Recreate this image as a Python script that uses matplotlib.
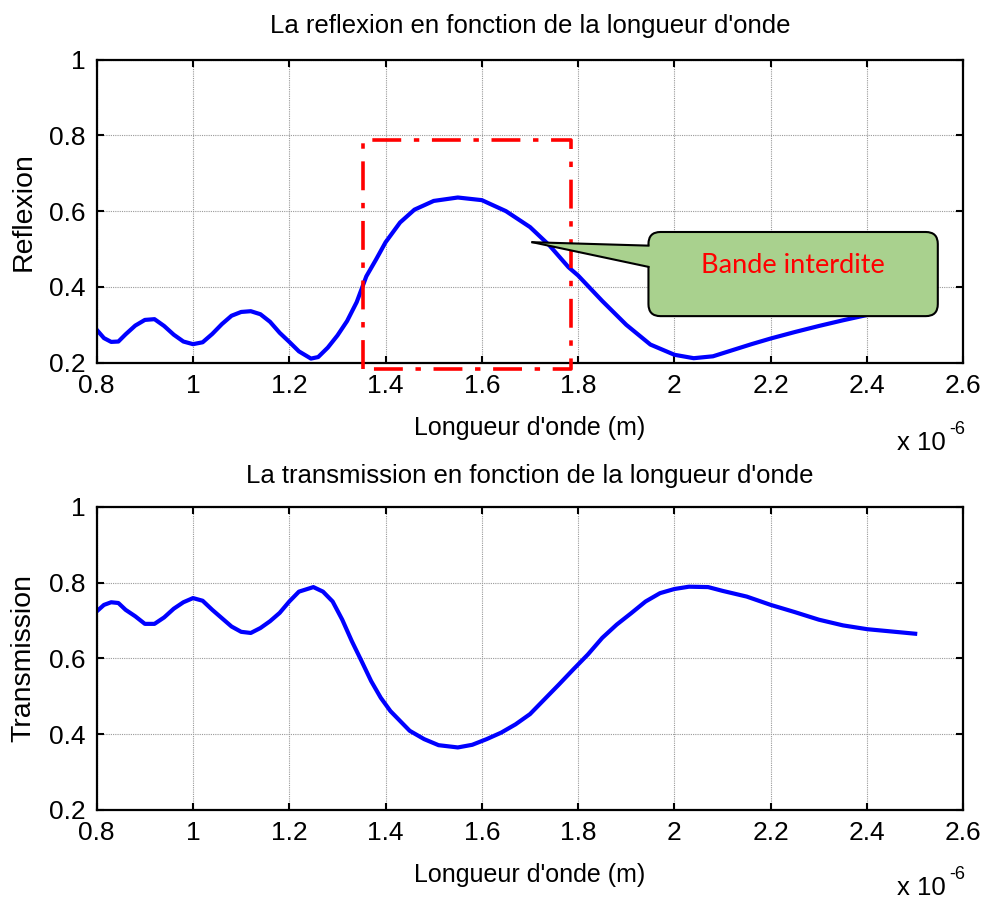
import matplotlib
matplotlib.use('Agg')
import matplotlib.pyplot as plt
from matplotlib.patches import FancyBboxPatch, Polygon
from matplotlib.ticker import FuncFormatter

plt.rcParams['font.family'] = ['Liberation Sans', 'DejaVu Sans']

# longueur d'onde (en micrometres, affichee x 10^-6 m)
lam_r = [0.80, 0.815, 0.83, 0.845, 0.86, 0.88, 0.90, 0.92, 0.94, 0.96, 0.98,
         1.00, 1.02, 1.04, 1.06, 1.08, 1.10, 1.12, 1.14, 1.16, 1.18, 1.20,
         1.22, 1.245, 1.26, 1.28, 1.30, 1.32, 1.34, 1.36, 1.38, 1.40, 1.43,
         1.46, 1.50, 1.55, 1.60, 1.65, 1.70, 1.74, 1.78, 1.80, 1.85, 1.90,
         1.95, 2.00, 2.04, 2.08, 2.12, 2.16, 2.20, 2.25, 2.30, 2.35, 2.40,
         2.45, 2.50]
reflexion = [0.287, 0.265, 0.255, 0.256, 0.275, 0.298, 0.313, 0.315, 0.297,
             0.274, 0.256, 0.249, 0.254, 0.276, 0.302, 0.324, 0.334, 0.336,
             0.328, 0.308, 0.279, 0.255, 0.230, 0.211, 0.215, 0.240, 0.272,
             0.310, 0.360, 0.428, 0.472, 0.518, 0.570, 0.604, 0.627, 0.636,
             0.629, 0.600, 0.558, 0.510, 0.452, 0.430, 0.363, 0.300, 0.248,
             0.221, 0.212, 0.217, 0.233, 0.249, 0.264, 0.281, 0.297, 0.312,
             0.326, 0.331, 0.334]

lam_t = [0.80, 0.815, 0.83, 0.845, 0.86, 0.88, 0.90, 0.92, 0.94, 0.96, 0.98,
         1.00, 1.02, 1.04, 1.06, 1.08, 1.10, 1.12, 1.14, 1.16, 1.18, 1.20,
         1.22, 1.25, 1.27, 1.29, 1.31, 1.33, 1.35, 1.37, 1.39, 1.41, 1.43,
         1.45, 1.48, 1.51, 1.55, 1.58, 1.61, 1.64, 1.67, 1.70, 1.73, 1.76,
         1.79, 1.82, 1.85, 1.88, 1.91, 1.94, 1.97, 2.00, 2.03, 2.07, 2.10,
         2.15, 2.20, 2.25, 2.30, 2.35, 2.40, 2.45, 2.50]
transmission = [0.724, 0.741, 0.748, 0.746, 0.728, 0.711, 0.691, 0.691, 0.708,
                0.731, 0.748, 0.759, 0.752, 0.728, 0.706, 0.684, 0.670, 0.667,
                0.680, 0.698, 0.720, 0.750, 0.776, 0.788, 0.776, 0.750, 0.702,
                0.645, 0.593, 0.540, 0.496, 0.461, 0.435, 0.409, 0.387, 0.371,
                0.365, 0.372, 0.387, 0.404, 0.426, 0.453, 0.492, 0.531, 0.571,
                0.610, 0.654, 0.689, 0.719, 0.750, 0.772, 0.783, 0.789, 0.788,
                0.778, 0.763, 0.741, 0.722, 0.702, 0.687, 0.677, 0.671, 0.665]

x_ticks = [0.8, 1.0, 1.2, 1.4, 1.6, 1.8, 2.0, 2.2, 2.4, 2.6]
y_ticks = [0.2, 0.4, 0.6, 0.8, 1.0]

# bande interdite (cadre rouge) et bulle
band_x = (1.354, 1.786)
band_y = (0.183, 0.788)
bulle_x = (1.946, 2.547)
bulle_y = (0.323, 0.545)
pointe = (1.705, 0.518)
base_y = (0.509, 0.453)

fig = plt.figure(figsize=(9.86, 9.01), dpi=100)
ax1 = fig.add_axes([0.0981, 0.5974, 0.8789, 0.3365])
ax2 = fig.add_axes([0.0981, 0.1010, 0.8789, 0.3366])

fmt = FuncFormatter(lambda v, p: '%g' % round(v, 2))


def style(ax, title, ylabel, tpad):
    ax.set_xlim(0.8, 2.6)
    ax.set_ylim(0.2, 1.0)
    ax.set_xticks(x_ticks)
    ax.set_yticks(y_ticks)
    ax.xaxis.set_major_formatter(fmt)
    ax.yaxis.set_major_formatter(fmt)
    ax.grid(True, color='0.6', linestyle=(0, (1, 1)), linewidth=0.8)
    ax.tick_params(direction='in', length=5, width=1.5, top=True, right=True,
                   labelsize=19, pad=8)
    for s in ax.spines.values():
        s.set_linewidth(1.6)
    ax.set_title(title, fontsize=18.5, pad=tpad)
    ax.set_xlabel("Longueur d'onde (m)", fontsize=18, labelpad=13)
    ax.set_ylabel(ylabel, fontsize=20.5, labelpad=9)


ax1.plot(lam_r, reflexion, color='#0000FF', linewidth=3)
style(ax1, 'La reflexion en fonction de la longueur d\'onde', 'Reflexion', 19)

ax2.plot(lam_t, transmission, color='#0000FF', linewidth=3)
style(ax2, 'La transmission en fonction de la longueur d\'onde', 'Transmission', 17)

# cadre rouge
x0, x1 = band_x
y0, y1 = band_y
ax1.plot([x0, x0, x1, x1, x0], [y0, y1, y1, y0, y0], color='#FF0000',
         linewidth=2.6, linestyle=(0, (8, 3.5, 1.5, 3.5)), clip_on=False,
         zorder=4)

# bulle "Bande interdite"
bx0, bx1 = bulle_x
by0, by1 = bulle_y
box = FancyBboxPatch((bx0, by0), bx1 - bx0, by1 - by0,
                     boxstyle='round,pad=0,rounding_size=0.025',
                     mutation_aspect=1.27, facecolor='#A9D18E',
                     edgecolor='black', linewidth=1.5, clip_on=False, zorder=5)
ax1.add_patch(box)
tri = Polygon([pointe, (bx0 + 0.006, base_y[0]), (bx0 + 0.006, base_y[1])],
              closed=True, facecolor='#A9D18E', edgecolor='none',
              clip_on=False, zorder=6)
ax1.add_patch(tri)
for yb in base_y:
    ax1.plot([pointe[0], bx0], [pointe[1], yb], color='black', linewidth=1.5,
             clip_on=False, zorder=7)
ax1.text((bx0 + bx1) / 2, 0.457, 'Bande interdite', color='#FF0000',
         fontsize=19.5, family=['Lato', 'DejaVu Sans'], ha='center',
         va='center', zorder=8)

# facteur d'echelle x 10^-6
for ytxt in (1 - 455 / 901, 1 - 900 / 901):
    fig.text(897 / 986, ytxt, 'x 10', fontsize=18.5, ha='left', va='bottom')
    fig.text(949 / 986, ytxt + 17 / 901, '-6', fontsize=13, ha='left',
             va='bottom')

plt.savefig('out.png', dpi=100)
plt.close()
